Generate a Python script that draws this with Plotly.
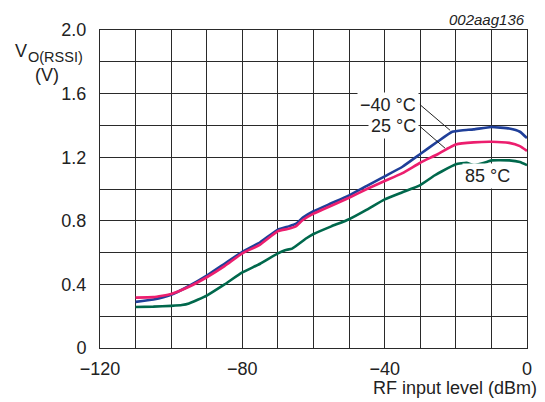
import plotly.graph_objects as go

# ---- data ----
x_m40 = [-110, -105, -100, -95, -90, -85, -80, -75, -70, -67, -65, -63, -60, -55, -50, -45, -40, -35, -30, -25, -21, -18, -15, -10, -5, -2, 0]
v_m40 = [0.29, 0.305, 0.335, 0.39, 0.455, 0.53, 0.605, 0.665, 0.745, 0.765, 0.78, 0.82, 0.86, 0.91, 0.96, 1.02, 1.08, 1.14, 1.22, 1.30, 1.36, 1.37, 1.375, 1.39, 1.38, 1.36, 1.32]

x_25 = [-110, -105, -100, -95, -90, -85, -80, -75, -70, -67, -65, -63, -60, -55, -50, -45, -40, -35, -30, -25, -22, -20, -15, -10, -5, -2, 0]
v_25 = [0.317, 0.32, 0.34, 0.385, 0.445, 0.515, 0.595, 0.65, 0.735, 0.75, 0.765, 0.805, 0.845, 0.895, 0.945, 1.0, 1.05, 1.10, 1.165, 1.22, 1.258, 1.28, 1.293, 1.297, 1.29, 1.27, 1.24]

x_85 = [-110, -105, -100, -97, -95, -90, -85, -80, -75, -70, -68, -66, -62, -60, -55, -50, -45, -40, -35, -30, -26, -24, -20, -17, -15, -12, -10, -5, -2, 0]
v_85 = [0.258, 0.26, 0.265, 0.27, 0.28, 0.33, 0.40, 0.475, 0.53, 0.595, 0.615, 0.625, 0.69, 0.717, 0.765, 0.81, 0.87, 0.935, 0.98, 1.025, 1.085, 1.11, 1.155, 1.165, 1.15, 1.165, 1.18, 1.18, 1.17, 1.15]

x_tickvals = [-120, -110, -100, -90, -80, -70, -60, -50, -40, -30, -20, -10, 0]
x_ticktext = ["\u2212120", "", "", "", "\u221280", "", "", "", "\u221240", "", "", "", "0"]
y_tickvals = [0, 0.2, 0.4, 0.6, 0.8, 1.0, 1.2, 1.4, 1.6, 1.8, 2.0]
y_ticktext = ["0", "", "0.4", "", "0.8", "", "1.2", "", "1.6", "", "2.0"]

series_names = ["\u221240 \u00b0C", "25 \u00b0C", "85 \u00b0C"]
colors = ["#1f3f99", "#ec1e6e", "#00684c"]

# ---- layout geometry (page pixels); page body has an 8px margin ----
OFF = 8
W, H = 545 - OFF, 402 - OFF
L, R, T, B = 100, 527, 28, 348
FONT = "Liberation Sans, Arial, sans-serif"
TXT = "#222222"


def px(xp):
    return (xp - L) / (R - L)


def py(yp):
    return (B - yp) / (B - T)


fig = go.Figure()
for xs, ys, c, n in zip([x_m40, x_25, x_85], [v_m40, v_25, v_85], colors, series_names):
    fig.add_trace(go.Scatter(x=xs, y=ys, mode="lines", name=n,
                             line=dict(color=c, width=2.6, shape="spline", smoothing=0.4),
                             hoverinfo="skip"))

fig.update_layout(
    width=W, height=H,
    margin=dict(l=L - OFF, r=W + OFF - R, t=T - OFF, b=H + OFF - B, pad=0),
    paper_bgcolor="white", plot_bgcolor="white",
    showlegend=False,
    font=dict(family=FONT, size=18, color=TXT),
)
fig.update_xaxes(range=[-120, 0], tickmode="array", tickvals=x_tickvals, ticktext=x_ticktext,
                 showgrid=True, gridcolor="#2a2a2a", gridwidth=1,
                 showline=True, linecolor="#2a2a2a", linewidth=1, mirror=True,
                 zeroline=False, ticks="", ticklabelstandoff=4,
                 tickfont=dict(family=FONT, size=18, color=TXT))
fig.update_yaxes(range=[0, 2.0], tickmode="array", tickvals=y_tickvals, ticktext=y_ticktext,
                 showgrid=True, gridcolor="#2a2a2a", gridwidth=1,
                 showline=True, linecolor="#2a2a2a", linewidth=1, mirror=True,
                 zeroline=False, ticks="", ticklabelstandoff=9,
                 tickfont=dict(family=FONT, size=18, color=TXT))

# leader lines
fig.add_shape(type="line", xref="x", yref="y", x0=-30.1, y0=1.531, x1=-21.6, y1=1.369,
              line=dict(color="#222222", width=1))
fig.add_shape(type="line", xref="x", yref="y", x0=-30.1, y0=1.394, x1=-23.0, y1=1.256,
              line=dict(color="#222222", width=1))

# curve labels (white boxes hide grid)
fig.add_annotation(x=-39.0, y=1.53, xref="x", yref="y", text=series_names[0], showarrow=False,
                   bgcolor="white", borderpad=2, font=dict(size=18, color=TXT))
fig.add_annotation(x=-37.5, y=1.394, xref="x", yref="y", text=series_names[1], showarrow=False,
                   bgcolor="white", borderpad=2, font=dict(size=18, color=TXT))
fig.add_annotation(x=-11.2, y=1.08, xref="x", yref="y", text=series_names[2], showarrow=False,
                   bgcolor="white", borderpad=2, font=dict(size=18, color=TXT))

# y-axis title
fig.add_annotation(x=px(13), y=py(49), xref="paper", yref="paper", text="V", showarrow=False,
                   xanchor="left", yanchor="middle", font=dict(size=18, color=TXT))
fig.add_annotation(x=px(26), y=py(55), xref="paper", yref="paper", text="O(RSSI)", showarrow=False,
                   xanchor="left", yanchor="middle", font=dict(size=14.5, color=TXT))
fig.add_annotation(x=px(46.5), y=py(73), xref="paper", yref="paper", text="(V)", showarrow=False,
                   xanchor="center", yanchor="middle", font=dict(size=18, color=TXT))

# x-axis title
fig.add_annotation(x=px(539), y=py(388), xref="paper", yref="paper", text="RF input level (dBm)",
                   showarrow=False, xanchor="right", yanchor="middle", font=dict(size=18, color=TXT))

# figure code
fig.add_annotation(x=px(527), y=py(17), xref="paper", yref="paper", text="<i>002aag136</i>",
                   showarrow=False, xanchor="right", yanchor="middle", font=dict(size=15, color=TXT))

fig.write_html("out.html")
